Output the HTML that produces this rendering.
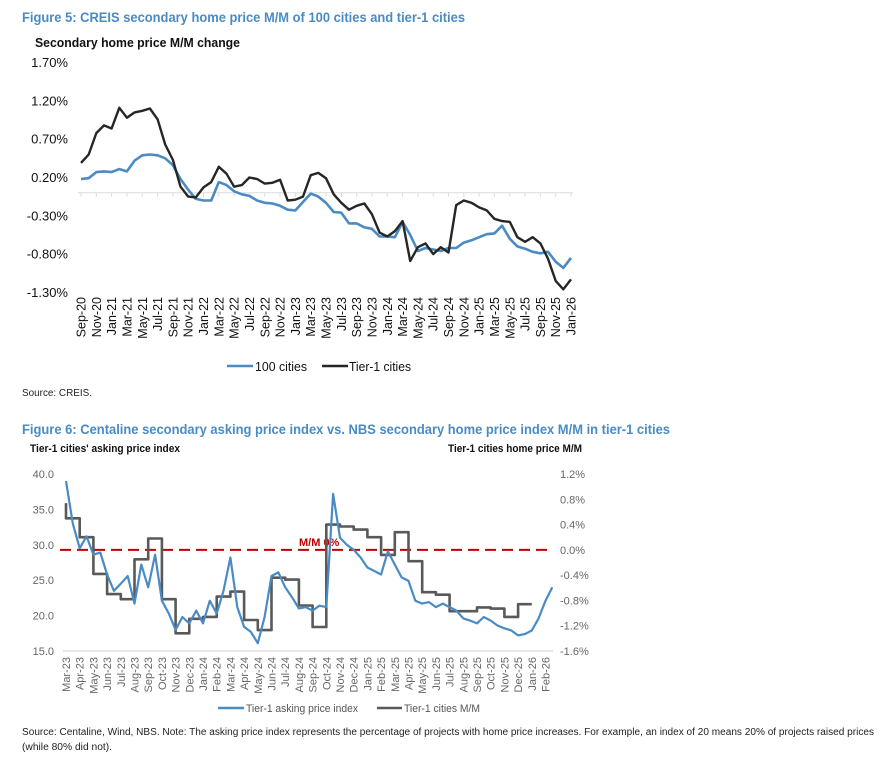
<!DOCTYPE html>
<html><head><meta charset="utf-8"><style>
html,body{margin:0;padding:0;background:#fff;}
svg{display:block;font-family:"Liberation Sans",Arial,sans-serif;}
</style></head><body>
<svg id="page" width="889" height="779" viewBox="0 0 889 779" xmlns="http://www.w3.org/2000/svg">
<text x="22" y="22" font-size="13.5" font-weight="bold" fill="#4a8bc4" textLength="443" lengthAdjust="spacingAndGlyphs">Figure 5: CREIS secondary home price M/M of 100 cities and tier-1 cities</text>
<text x="35" y="47" font-size="12.5" font-weight="bold" fill="#111" textLength="205" lengthAdjust="spacingAndGlyphs">Secondary home price M/M change</text>
<g id="c1"></g>
<text x="22" y="396" font-size="10" fill="#222" textLength="70" lengthAdjust="spacingAndGlyphs">Source: CREIS.</text>
<text x="22" y="434" font-size="13.5" font-weight="bold" fill="#4a8bc4" textLength="648" lengthAdjust="spacingAndGlyphs">Figure 6: Centaline secondary asking price index vs. NBS secondary home price index M/M in tier-1 cities</text>
<text x="30" y="452" font-size="11" font-weight="bold" fill="#111" textLength="150" lengthAdjust="spacingAndGlyphs">Tier-1 cities' asking price index</text>
<text x="448" y="452" font-size="11" font-weight="bold" fill="#111" textLength="134" lengthAdjust="spacingAndGlyphs">Tier-1 cities home price M/M</text>
<g id="c2"></g>
<text x="22" y="735" font-size="10" fill="#222" textLength="852" lengthAdjust="spacingAndGlyphs">Source: Centaline, Wind, NBS. Note: The asking price index represents the percentage of projects with home price increases. For example, an index of 20 means 20% of projects raised prices</text>
<text x="22" y="750" font-size="10" fill="#222" textLength="90" lengthAdjust="spacingAndGlyphs">(while 80% did not).</text>
</svg>
<script>
// ---- Chart 1 data ----
const c1Labels = ["Sep-20","Nov-20","Jan-21","Mar-21","May-21","Jul-21","Sep-21","Nov-21","Jan-22","Mar-22","May-22","Jul-22","Sep-22","Nov-22","Jan-23","Mar-23","May-23","Jul-23","Sep-23","Nov-23","Jan-24","Mar-24","May-24","Jul-24","Sep-24","Nov-24","Jan-25","Mar-25","May-25","Jul-25","Sep-25","Nov-25","Jan-26"];
const c1YTicks = [1.7,1.2,0.7,0.2,-0.3,-0.8,-1.3];
const cities100 = [0.18,0.19,0.27,0.28,0.27,0.31,0.28,0.42,0.49,0.50,0.49,0.45,0.36,0.18,0.04,-0.08,-0.10,-0.10,0.14,0.10,0.02,-0.02,-0.04,-0.10,-0.13,-0.14,-0.17,-0.22,-0.23,-0.12,-0.01,-0.05,-0.13,-0.25,-0.26,-0.40,-0.40,-0.45,-0.47,-0.57,-0.57,-0.58,-0.38,-0.55,-0.76,-0.72,-0.74,-0.76,-0.72,-0.72,-0.65,-0.62,-0.58,-0.54,-0.53,-0.43,-0.60,-0.70,-0.73,-0.77,-0.79,-0.77,-0.90,-0.98,-0.85];
const tier1 = [0.39,0.50,0.78,0.88,0.84,1.11,0.98,1.05,1.07,1.10,0.96,0.63,0.43,0.08,-0.05,-0.06,0.07,0.14,0.34,0.25,0.08,0.10,0.20,0.18,0.12,0.13,0.17,-0.10,-0.09,-0.05,0.23,0.26,0.19,-0.02,-0.13,-0.22,-0.17,-0.14,-0.28,-0.52,-0.57,-0.50,-0.37,-0.89,-0.71,-0.66,-0.80,-0.71,-0.78,-0.16,-0.10,-0.13,-0.19,-0.23,-0.34,-0.37,-0.38,-0.58,-0.64,-0.58,-0.66,-0.86,-1.15,-1.26,-1.13];

// ---- Chart 2 data ----
const c2Labels = ["Mar-23","Apr-23","May-23","Jun-23","Jul-23","Aug-23","Sep-23","Oct-23","Nov-23","Dec-23","Jan-24","Feb-24","Mar-24","Apr-24","May-24","Jun-24","Jul-24","Aug-24","Sep-24","Oct-24","Nov-24","Dec-24","Jan-25","Feb-25","Mar-25","Apr-25","May-25","Jun-25","Jul-25","Aug-25","Sep-25","Oct-25","Nov-25","Dec-25","Jan-26","Feb-26"];
const c2LeftTicks = [40,35,30,25,20,15];
const c2RightTicks = [1.2,0.8,0.4,0.0,-0.4,-0.8,-1.2,-1.6];
const askingIndex = [39.0,33.0,29.5,31.2,28.6,28.9,25.8,23.5,24.5,25.6,21.7,27.2,24.0,28.6,22.1,20.3,18.0,19.8,18.9,20.7,18.9,22.1,20.3,23.5,28.2,21.2,18.4,17.7,16.1,19.8,25.6,26.1,24.0,22.6,21.0,21.2,20.7,21.4,21.2,37.2,31.0,30.0,29.3,28.2,26.8,26.3,25.8,29.1,27.2,25.4,24.9,22.1,21.7,21.9,21.2,21.7,21.2,20.7,19.6,19.3,18.9,19.8,19.3,18.6,18.2,17.9,17.2,17.4,17.9,19.6,22.1,24.0];
const mmStart = 0.74;
const tier1MM = [0.50,0.20,-0.38,-0.70,-0.78,-0.15,0.18,-0.78,-1.32,-1.09,-1.06,-0.74,-0.66,-1.11,-1.27,-0.44,-0.47,-0.88,-1.22,0.40,0.37,0.32,0.20,-0.08,0.28,-0.18,-0.67,-0.71,-0.97,-0.97,-0.91,-0.93,-1.06,-0.86];

const NS = "http://www.w3.org/2000/svg";
function mk(parent, tag, attrs){const e=document.createElementNS(NS,tag);for(const k in attrs)e.setAttribute(k,attrs[k]);parent.appendChild(e);return e;}

// ===== Chart 1 =====
(function(){
  const g = document.getElementById('c1');
  const x0 = 81, x1 = 571, n = tier1.length;
  const xs = i => x0 + i*(x1-x0)/(n-1);
  const ys = v => 192.8 - v*76.6;
  c1YTicks.forEach(v=>{
    const t = mk(g,'text',{x:68,y:ys(v)+4.5,'font-size':13,'text-anchor':'end',fill:'#111'});
    t.textContent = v.toFixed(2)+'%';
    
    
  });
  const ax = mk(g,'line',{x1:x0-3,y1:ys(0),x2:x1+2,y2:ys(0),stroke:'#dcdcdc','stroke-width':1});
  
  
  for(let i=0;i<n;i+=2){
    const tk = mk(g,'line',{x1:xs(i),y1:ys(0),x2:xs(i),y2:ys(0)+4,stroke:'#dcdcdc','stroke-width':1});
    
    
  }
  c1Labels.forEach((l,j)=>{
    const x = xs(j*2)+4.5, y = 297;
    const t = mk(g,'text',{x:x,y:y,'font-size':12.5,'text-anchor':'end',fill:'#111',transform:`rotate(-90 ${x} ${y})`});
    t.textContent = l;
    
    
  });
  const pb = mk(g,'path',{d:cities100.map((v,i)=>(i?'L':'M')+xs(i).toFixed(1)+' '+ys(v).toFixed(1)).join(''),fill:'none',stroke:'#4a8bc4','stroke-width':2.6,'stroke-linejoin':'round'});
  
  
  const pk = mk(g,'path',{d:tier1.map((v,i)=>(i?'L':'M')+xs(i).toFixed(1)+' '+ys(v).toFixed(1)).join(''),fill:'none',stroke:'#262626','stroke-width':2.4,'stroke-linejoin':'round'});
  
  
  // legend
  const l1 = mk(g,'line',{x1:227,y1:366,x2:253,y2:366,stroke:'#4a8bc4','stroke-width':2.6});
  
  
  const t1 = mk(g,'text',{x:255,y:371,'font-size':13,fill:'#111',textLength:52,lengthAdjust:'spacingAndGlyphs'}); t1.textContent='100 cities';
  
  
  const l2 = mk(g,'line',{x1:322,y1:366,x2:348,y2:366,stroke:'#262626','stroke-width':2.6});
  
  
  const t2 = mk(g,'text',{x:349,y:371,'font-size':13,fill:'#111',textLength:62,lengthAdjust:'spacingAndGlyphs'}); t2.textContent='Tier-1 cities';
  
  
})();

// ===== Chart 2 =====
(function(){
  const g = document.getElementById('c2');
  const mx = m => 66 + m*13.7;
  const yl = v => 651 - (v-15)*177/25;
  const yr = v => 651 - (v+1.6)*177/2.8;
  c2LeftTicks.forEach(v=>{
    const t = mk(g,'text',{x:54,y:yl(v)+4,'font-size':11,'text-anchor':'end',fill:'#666'});
    t.textContent = v.toFixed(1);
    
    
  });
  c2RightTicks.forEach(v=>{
    const t = mk(g,'text',{x:560,y:yr(v)+4,'font-size':11,fill:'#666'});
    t.textContent = v.toFixed(1)+'%';
    
    
  });
  const ax = mk(g,'line',{x1:63,y1:651,x2:553,y2:651,stroke:'#d9d9d9','stroke-width':1.2});
  
  
  c2Labels.forEach((l,m)=>{
    const x = mx(m)+4, y = 657;
    const t = mk(g,'text',{x:x,y:y,'font-size':11,'text-anchor':'end',fill:'#666',transform:`rotate(-90 ${x} ${y})`});
    t.textContent = l;
    
    
  });
  const z = mk(g,'line',{x1:60,y1:yr(0),x2:553,y2:yr(0),stroke:'#c00000','stroke-width':2,'stroke-dasharray':'11 6'});
  
  
  const zt = mk(g,'text',{x:299,y:yr(0)-4,'font-size':11,'font-weight':'bold',fill:'#c00000'}); zt.textContent='M/M 0%';
  
  
  let d = 'M'+mx(0)+' '+yr(mmStart).toFixed(1);
  tier1MM.forEach((v,m)=>{ d += 'L'+mx(m)+' '+yr(v).toFixed(1)+'L'+mx(m+1)+' '+yr(v).toFixed(1); });
  const ps = mk(g,'path',{d:d,fill:'none',stroke:'#595959','stroke-width':2.6,'stroke-linejoin':'round'});
  
  
  const pa = mk(g,'path',{d:askingIndex.map((v,t)=>(t?'L':'M')+mx(t/2).toFixed(1)+' '+yl(v).toFixed(1)).join(''),fill:'none',stroke:'#4a8bc4','stroke-width':2.2,'stroke-linejoin':'round'});
  
  
  const l1 = mk(g,'line',{x1:218,y1:708,x2:244,y2:708,stroke:'#4a8bc4','stroke-width':2.4});
  
  
  const t1 = mk(g,'text',{x:246,y:712,'font-size':11,fill:'#555',textLength:112,lengthAdjust:'spacingAndGlyphs'}); t1.textContent='Tier-1 asking price index';
  
  
  const l2 = mk(g,'line',{x1:377,y1:708,x2:402,y2:708,stroke:'#595959','stroke-width':2.4});
  
  
  const t2 = mk(g,'text',{x:404,y:712,'font-size':11,fill:'#555',textLength:76,lengthAdjust:'spacingAndGlyphs'}); t2.textContent='Tier-1 cities M/M';
  
  
})();
</script>
</body></html>
